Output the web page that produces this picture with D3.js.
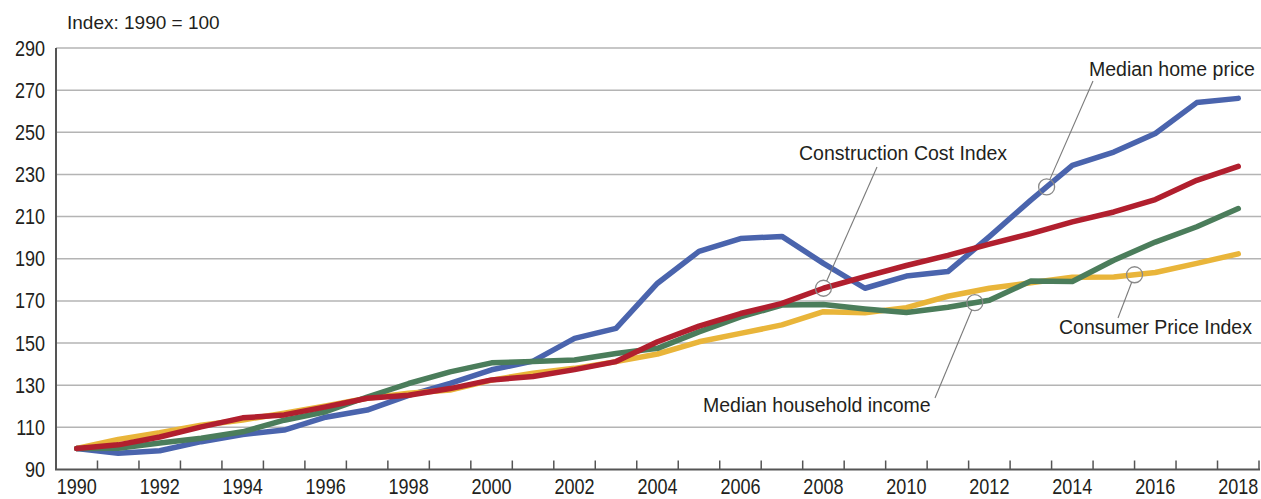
<!DOCTYPE html>
<html>
<head>
<meta charset="utf-8">
<script src="https://cdn.jsdelivr.net/npm/d3@7"></script>
<style>
  body { margin: 0; background: #fff; }
  .tick-label { font-family: "Liberation Sans", Arial, sans-serif; font-size: 22px; fill: #231f20; }
  .note { font-family: "Liberation Sans", Arial, sans-serif; font-size: 19.5px; fill: #231f20; }
</style>
</head>
<body>
<div id="chart"></div>
<script>
// years on the x axis
var years = d3.range(1990, 2019);
var yearLabels = years.filter(function(d) { return d % 2 === 0; });
var yTicks = [90, 110, 130, 150, 170, 190, 210, 230, 250, 270, 290];

// index values, 1990 = 100
var homePrice = [100, 97.7, 98.9, 103.2, 106.6, 108.7, 114.8, 118.2, 125.2, 130.9, 137.3, 141.4, 152.2, 157, 178.4, 193.5, 199.6, 200.6, 187.8, 176, 181.8, 183.9, 200.5, 217.8, 234.3, 240.6, 249.4, 264.1, 266.1];
var constructionCost = [100, 101.7, 105.4, 110.2, 114.5, 115.9, 119.7, 123.8, 125.2, 128.4, 132.5, 134.1, 137.4, 141.2, 150.6, 158, 164, 168.8, 176, 181.5, 186.8, 191.6, 196.9, 201.9, 207.5, 212.2, 218.1, 227.2, 233.8];
var householdIncome = [100, 100.1, 102.6, 104.8, 107.9, 113.4, 117.4, 124.4, 130.8, 136.3, 140.6, 141.2, 142, 145, 147.5, 155.3, 162.4, 168, 168.3, 166.2, 164.5, 167, 170.3, 179.4, 179.2, 189.3, 197.9, 205.2, 213.8];
var cpi = [100, 104.3, 107.4, 111, 113.5, 116.7, 120.1, 123.8, 126.2, 127.7, 132.4, 135.7, 138, 141.2, 144.8, 150.6, 154.6, 158.6, 164.9, 164.4, 166.8, 172.2, 176, 178.6, 181.2, 181.3, 183.5, 187.8, 192.3];

// drawing order: last on top
var series = [
  { name: "Median home price", values: homePrice, color: "#4a64ad" },
  { name: "Consumer Price Index", values: cpi, color: "#e9b53a" },
  { name: "Median household income", values: householdIncome, color: "#4b7d5b" },
  { name: "Construction Cost Index", values: constructionCost, color: "#b11f2e" }
];

// callouts: which line, where on it (year), and where the label sits
var notes = [
  { series: 3, at: 2008, label: "Construction Cost Index", tx: 799, ty: 160, lx: 877, ly: 167 },
  { series: 0, at: 2013.38, label: "Median home price", tx: 1089, ty: 76, lx: 1093, ly: 81 },
  { series: 2, at: 2011.65, label: "Median household income", tx: 703, ty: 412, lx: 935, ly: 398 },
  { series: 1, at: 2015.5, label: "Consumer Price Index", tx: 1059, ty: 334, lx: 1118, ly: 318 }
];

var W = 1261, H = 499;
var plotLeft = 56, plotRight = 1259, plotTop = 48, plotBottom = 469.5;
var SQUEEZE = 0.82; // tick labels use a condensed face in the original

var svg = d3.select("#chart").append("svg")
  .attr("width", W)
  .attr("height", H);

var x = d3.scaleBand().domain(years).range([plotLeft, plotRight]).padding(0);
var y = d3.scaleLinear().domain([90, 290]).range([plotBottom, plotTop]);

var xc = function(yr) { return x(yr) + x.bandwidth() / 2; };

// value along a series at a fractional year
var valueAt = function(vals, t) {
  var i = Math.floor(t - 1990), f = (t - 1990) - i;
  if (i >= vals.length - 1) return vals[vals.length - 1];
  return vals[i] + (vals[i + 1] - vals[i]) * f;
};

// gridlines
svg.append("g")
  .selectAll("line")
  .data(yTicks.filter(function(d) { return d > 90; }))
  .enter().append("line")
  .attr("x1", plotLeft).attr("x2", W)
  .attr("y1", function(d) { return y(d); })
  .attr("y2", function(d) { return y(d); })
  .attr("stroke", "#b4b4b4")
  .attr("stroke-width", 1.5);

// y axis
var yAxis = d3.axisLeft(y).tickValues(yTicks).tickSize(0).tickPadding(11);
var yg = svg.append("g")
  .attr("transform", "translate(" + plotLeft + ",0)")
  .call(yAxis);
yg.select(".domain").remove();
yg.attr("font-family", null).attr("font-size", null);
yg.selectAll("text")
  .attr("class", "tick-label")
  .attr("fill", null)
  .attr("x", -11 / SQUEEZE)
  .attr("transform", "scale(" + SQUEEZE + ",1)");

svg.append("line")
  .attr("x1", plotLeft).attr("x2", plotLeft)
  .attr("y1", plotTop).attr("y2", plotBottom)
  .attr("stroke", "#555")
  .attr("stroke-width", 2);

// x axis labels
var xAxis = d3.axisBottom(x).tickValues(yearLabels).tickSize(0).tickPadding(9);
var xg = svg.append("g")
  .attr("transform", "translate(0," + plotBottom + ")")
  .call(xAxis);
xg.select(".domain").remove();
xg.attr("font-family", null).attr("font-size", null);
xg.selectAll("text")
  .attr("class", "tick-label")
  .attr("fill", null)
  .attr("transform", "scale(" + SQUEEZE + ",1)");

// x axis line and inward ticks at year boundaries
svg.append("line")
  .attr("x1", plotLeft - 1).attr("x2", plotRight + 1)
  .attr("y1", plotBottom).attr("y2", plotBottom)
  .attr("stroke", "#555")
  .attr("stroke-width", 2);

svg.append("g")
  .selectAll("line")
  .data(years)
  .enter().append("line")
  .attr("x1", function(d) { return x(d) + x.step(); })
  .attr("x2", function(d) { return x(d) + x.step(); })
  .attr("y1", plotBottom)
  .attr("y2", plotBottom - 9)
  .attr("stroke", "#555")
  .attr("stroke-width", 1.5);

// index note
svg.append("text")
  .attr("class", "note")
  .attr("x", 67)
  .attr("y", 29)
  .style("font-size", "19px")
  .text("Index: 1990 = 100");

// lines
var line = d3.line()
  .x(function(d, i) { return xc(years[i]); })
  .y(function(d) { return y(d); });

svg.append("g")
  .selectAll("path")
  .data(series)
  .enter().append("path")
  .attr("d", function(d) { return line(d.values); })
  .attr("fill", "none")
  .attr("stroke", function(d) { return d.color; })
  .attr("stroke-width", 5.5)
  .attr("stroke-linejoin", "round")
  .attr("stroke-linecap", "round");

// callouts
var R = 8;
var ng = svg.append("g");
notes.forEach(function(n) {
  var cx = xc(1990) + (n.at - 1990) * x.step();
  var cy = y(valueAt(series[n.series].values, n.at));
  var dx = n.lx - cx, dy = n.ly - cy, len = Math.sqrt(dx * dx + dy * dy);

  ng.append("circle")
    .attr("cx", cx).attr("cy", cy).attr("r", R)
    .attr("fill", "none")
    .attr("stroke", "#8a8a8a")
    .attr("stroke-width", 1.3);

  ng.append("line")
    .attr("x1", cx + dx / len * R).attr("y1", cy + dy / len * R)
    .attr("x2", n.lx).attr("y2", n.ly)
    .attr("stroke", "#7a7a7a")
    .attr("stroke-width", 1.1);

  ng.append("text")
    .attr("class", "note")
    .attr("x", n.tx)
    .attr("y", n.ty)
    .text(n.label);
});
</script>
</body>
</html>
